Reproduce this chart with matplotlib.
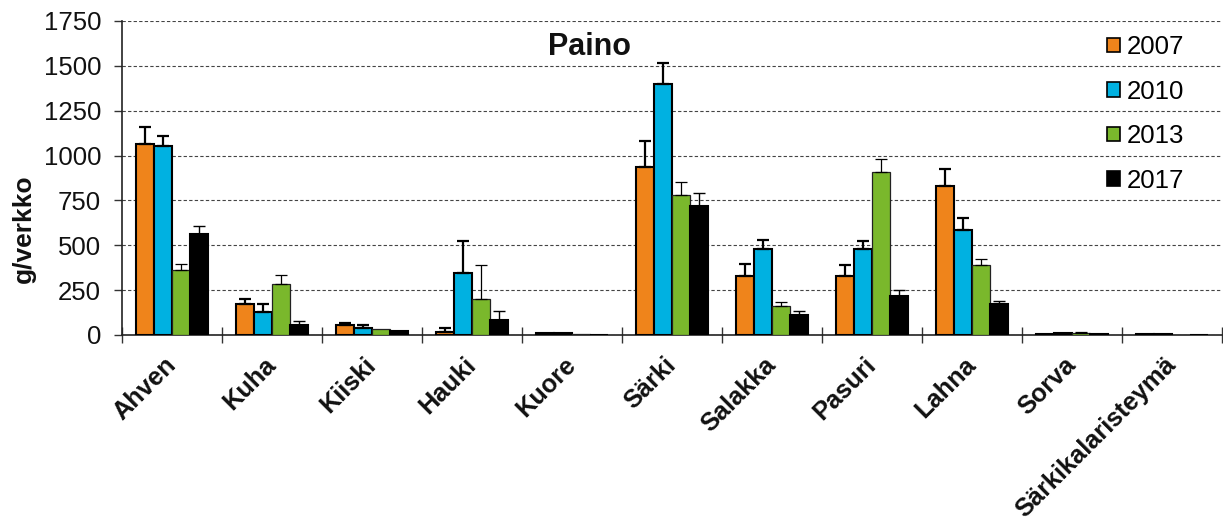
import matplotlib
matplotlib.use("Agg")
import matplotlib.pyplot as plt
import numpy as np
from matplotlib.patches import Patch

categories = ["Ahven", "Kuha", "Kiiski", "Hauki", "Kuore", "Särki", "Salakka",
              "Pasuri", "Lahna", "Sorva", "Särkikalaristeymä"]
years = ["2007", "2010", "2013", "2017"]

v2007 = [1066, 173, 57, 19, 10, 936, 329, 329, 830, 7, 3]
v2010 = [1052, 128, 41, 346, 10, 1401, 479, 479, 587, 10, 3]
v2013 = [360, 283, 32, 199, 4, 782, 162, 910, 390, 12, 2]
v2017 = [563, 56, 21, 84, 1, 721, 113, 219, 171, 3, 2]

e2007 = [95, 29, 12, 20, 0, 145, 67, 59, 95, 0, 0]
e2010 = [59, 46, 13, 178, 0, 113, 52, 43, 63, 0, 0]
e2013 = [37, 51, 0, 193, 0, 71, 22, 73, 35, 3, 0]
e2017 = [43, 20, 0, 50, 0, 69, 21, 32, 18, 0, 0]

yticks = [0, 250, 500, 750, 1000, 1250, 1500, 1750]

colors = ["#EF841B", "#00B1E1", "#7AB82C", "#000000"]
edge_lw = [1.5, 1.5, 0.9, 1.5]
edge_c = ["#000000", "#000000", "#222222", "#000000"]
err_lw = [1.6, 1.6, 0.9, 1.0]

plt.rcParams['font.family'] = ['Liberation Sans', 'DejaVu Sans']

fig = plt.figure(figsize=(12.23, 5.27), dpi=100)
ax = fig.add_axes([122/1223, (527-335)/527, 1100/1223, 314/527])

x = np.arange(len(categories))
w = 0.18
vals = [v2007, v2010, v2013, v2017]
errs = [e2007, e2010, e2013, e2017]
for i in range(4):
    pos = x + (i - 1.5) * w
    ax.bar(pos, vals[i], width=w, color=colors[i], edgecolor=edge_c[i],
           linewidth=edge_lw[i], zorder=3)
    e = np.array(errs[i])
    m = e > 0
    ax.errorbar(pos[m], np.array(vals[i])[m], yerr=[np.zeros(m.sum()), e[m]],
                fmt='none', ecolor='black', elinewidth=err_lw[i],
                capsize=4.3, capthick=err_lw[i], zorder=4)

ax.set_xlim(-0.5, len(categories) - 0.5)
ax.set_ylim(0, 1750)
ax.set_yticks(yticks)
ax.set_yticklabels([str(t) for t in yticks], fontsize=18.5, color='#111111')
ax.yaxis.grid(True, linestyle=(0, (3, 2)), color='#444444', linewidth=0.8, zorder=0)
ax.set_axisbelow(True)

ax.set_xticks(x)
ax.set_xticklabels(categories, rotation=45, ha='right', va='center', rotation_mode='anchor',
                   fontsize=18.3, fontweight='bold', color='#111111')
ax.tick_params(axis='x', which='major', length=0, pad=19)
ax.set_xticks(np.arange(-0.5, len(categories)), minor=True)
ax.tick_params(axis='x', which='minor', length=11, direction='inout', width=1, color='#333333')
ax.tick_params(axis='y', length=6, direction='out', width=1, color='#333333', pad=9)

for s in ['top', 'right']:
    ax.spines[s].set_visible(False)
ax.spines['left'].set_color('#222222')
ax.spines['bottom'].set_color('#222222')
ax.spines['left'].set_linewidth(1.2)
ax.spines['bottom'].set_linewidth(1.2)

ax.set_ylabel("g/verkko", fontsize=19, fontweight='bold', color='#111111')
ax.yaxis.set_label_coords(-0.078, 0.34)

fig.text(590/1223, 1 - 47/527, "Paino", ha='center', va='center',
         fontsize=22, fontweight='bold', color='#111111')

handles = [Patch(facecolor=colors[i], edgecolor='black', linewidth=1.2) for i in range(4)]
leg = fig.legend(handles, years, loc='upper left', bbox_to_anchor=(1107/1223, 1 - 35/527),
                 frameon=False, fontsize=18.5, handlelength=0.5, handleheight=0.5,
                 handletextpad=0.25, labelspacing=0.8, borderpad=0, borderaxespad=0)

fig.savefig("out.png", dpi=100)
